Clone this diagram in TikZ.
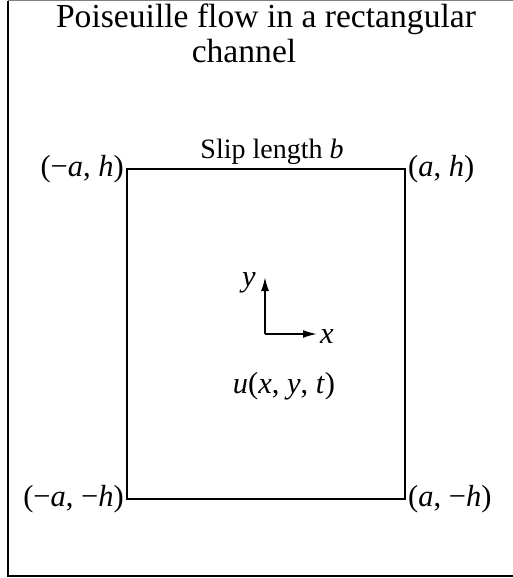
\documentclass[tikz,border=0pt]{standalone}
\usepackage{fontspec}
\setmainfont{Liberation Serif}
\usetikzlibrary{arrows.meta}
\tikzset{>={Latex[length=14pt,width=8pt]}}
\tikzset{
  titletext/.style={font=\fontsize{33.6}{35}\selectfont, inner sep=0pt},
  cornerlabel/.style={font=\fontsize{30.5}{32}\selectfont, inner sep=3pt},
  flowlabel/.style={font=\fontsize{30.5}{32}\selectfont, inner sep=0pt},
  sliplabel/.style={font=\fontsize{28}{30}\selectfont, inner sep=0pt},
  wall/.style={line width=2.4pt},
  axis/.style={->,line width=1.8pt}
}

\begin{document}
\begin{tikzpicture}[x=1pt,y=-1pt]
\useasboundingbox (0,0) rectangle (513,578);
% frame
\draw[gray,line width=1pt] (8,1) -- (530,1);
\draw[line width=1.2pt] (8,1) -- (8,576) -- (530,576);
% title
\node[titletext,anchor=base] (title) at (266,28) {Poiseuille flow in a rectangular};
\node[titletext,anchor=base] (title2) at (244,63) {channel};
% channel walls
\coordinate (nw) at (127,169);
\coordinate (ne) at (405,169);
\coordinate (se) at (405,499);
\coordinate (sw) at (127,499);
\draw[wall] (nw) -- (ne) -- (se) -- (sw) -- cycle;
\node[sliplabel,anchor=base] (slip) at (272,158) {Slip length \textit{b}};
\node[cornerlabel,anchor=east] (lnw) at (nw) {(−\textit{a}, \textit{h})};
\node[cornerlabel,anchor=west] (lne) at (ne) {(\textit{a}, \textit{h})};
\node[cornerlabel,anchor=east] (lsw) at (sw) {(−\textit{a}, −\textit{h})};
\node[cornerlabel,anchor=west] (lse) at (se) {(\textit{a}, −\textit{h})};
% axes
\coordinate (orig) at (265,334);
\coordinate (ytip) at (265,277);
\coordinate (xtip) at (317,334);
\draw[axis] (orig) -- (ytip);
\draw[axis] (orig) -- (xtip);
\node[flowlabel] (ylab) at (249,283) {\textit{y}};
\node[flowlabel] (xlab) at (327,336) {\textit{x}};
\node[flowlabel] (vel) at (284,386) {\textit{u}(\textit{x}, \textit{y}, \textit{t})};
\end{tikzpicture}
\end{document}
